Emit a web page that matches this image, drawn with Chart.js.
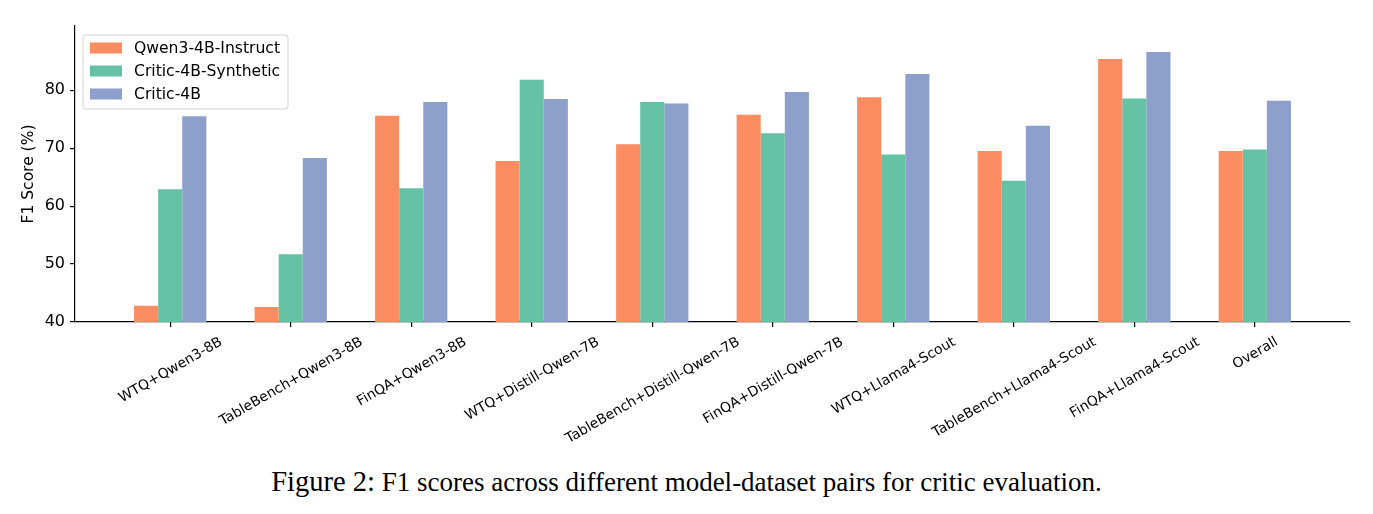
<!DOCTYPE html>
<html>
<head>
<meta charset="utf-8">
<script src="https://cdn.jsdelivr.net/npm/chart.js@4.4.1/dist/chart.umd.min.js"></script>
<style>
  html, body { margin: 0; padding: 0; background: #ffffff; }
  #wrap { position: relative; width: 1373px; height: 514px; overflow: hidden; background: #fff; }
  #c { position: absolute; left: 0; top: 0; }
  #caption { position: absolute; left: 0; top: 466px; width: 1373px; text-align: center;
             font-family: "Liberation Serif", "Times New Roman", serif; line-height: 32px; color: #000; white-space: nowrap; }
  #caption .fig { font-size: 28.5px; }
  #caption .txt { font-size: 27px; }
</style>
</head>
<body>
<div id="wrap">
  <canvas id="c" width="1373" height="460"></canvas>
  <div id="caption"><span class="fig">Figure 2:</span><span class="txt"> F1 scores across different model-dataset pairs for critic evaluation.</span></div>
</div>
<script>
const categories = [
  "WTQ+Qwen3-8B", "TableBench+Qwen3-8B", "FinQA+Qwen3-8B",
  "WTQ+Distill-Qwen-7B", "TableBench+Distill-Qwen-7B", "FinQA+Distill-Qwen-7B",
  "WTQ+Llama4-Scout", "TableBench+Llama4-Scout", "FinQA+Llama4-Scout", "Overall"
];
const seriesNames = ["Qwen3-4B-Instruct", "Critic-4B-Synthetic", "Critic-4B"];
const qwenInstruct = [42.8, 42.6, 75.6, 67.8, 70.7, 75.8, 78.8, 69.5, 85.4, 69.5];
const critic4BSynthetic = [62.9, 51.7, 63.1, 81.8, 78.0, 72.6, 68.9, 64.4, 78.6, 69.8];
const critic4B = [75.5, 68.3, 78.0, 78.5, 77.7, 79.7, 82.8, 73.9, 86.6, 78.2];
const yTicks = [40, 50, 60, 70, 80];
const yLabel = "F1 Score (%)";

const colors = ["#fc8d62", "#66c2a5", "#8da0cb"];
const seriesValues = [qwenInstruct, critic4BSynthetic, critic4B];

const datasets = seriesValues.map((vals, k) => ({
  label: seriesNames[k],
  data: vals.map((v, i) => ({ x: i, y: v })),
  backgroundColor: colors[k],
  borderWidth: 0,
  categoryPercentage: 0.6,
  barPercentage: 1.0
}));

const FONT = "DejaVu Sans";

const overlay = {
  id: "overlay",
  afterDraw(chart) {
    const ctx = chart.ctx;
    const xs = chart.scales.x;
    const area = chart.chartArea;
    // rotated x tick labels, centered on ticks (matplotlib ha=center)
    const fs = 13.9;
    const th = 30 * Math.PI / 180;
    ctx.save();
    ctx.fillStyle = "#000";
    ctx.font = fs + "px '" + FONT + "'";
    ctx.textAlign = "center";
    ctx.textBaseline = "alphabetic";
    const top = area.bottom + 11;
    categories.forEach((lab, i) => {
      const w = ctx.measureText(lab).width;
      const h = fs * 1.164;
      const H = w * Math.sin(th) + h * Math.cos(th);
      const cx = xs.getPixelForValue(i);
      const cy = top + H / 2;
      ctx.save();
      ctx.translate(cx, cy);
      ctx.rotate(-th);
      ctx.fillText(lab, 0, 0.346 * fs);
      ctx.restore();
    });
    ctx.restore();

    // y axis title
    ctx.save();
    ctx.fillStyle = "#000";
    ctx.font = "15.5px '" + FONT + "'";
    ctx.textAlign = "center";
    ctx.textBaseline = "middle";
    ctx.translate(29, (area.top + area.bottom) / 2);
    ctx.rotate(-Math.PI / 2);
    ctx.fillText(yLabel, 0, 0);
    ctx.restore();

    // legend
    const lx = area.left + 8, ly = area.top + 9, lw = 205, lh = 74, r = 3;
    ctx.save();
    ctx.beginPath();
    ctx.moveTo(lx + r, ly);
    ctx.lineTo(lx + lw - r, ly);
    ctx.arcTo(lx + lw, ly, lx + lw, ly + r, r);
    ctx.lineTo(lx + lw, ly + lh - r);
    ctx.arcTo(lx + lw, ly + lh, lx + lw - r, ly + lh, r);
    ctx.lineTo(lx + r, ly + lh);
    ctx.arcTo(lx, ly + lh, lx, ly + lh - r, r);
    ctx.lineTo(lx, ly + r);
    ctx.arcTo(lx, ly, lx + r, ly, r);
    ctx.closePath();
    ctx.fillStyle = "rgba(255,255,255,0.8)";
    ctx.fill();
    ctx.strokeStyle = "#d5d5d5";
    ctx.lineWidth = 1;
    ctx.stroke();
    ctx.font = "15.6px '" + FONT + "'";
    ctx.textAlign = "left";
    ctx.textBaseline = "middle";
    chart.data.datasets.forEach((ds, k) => {
      const rowY = ly + 13 + k * 23;
      ctx.fillStyle = ds.backgroundColor;
      ctx.fillRect(lx + 7, rowY - 5.5, 32, 11);
      ctx.fillStyle = "#000";
      ctx.fillText(ds.label, lx + 51, rowY + 1);
    });
    ctx.restore();
  }
};

new Chart(document.getElementById("c"), {
  type: "bar",
  data: { datasets },
  plugins: [overlay],
  options: {
    responsive: false,
    animation: false,
    devicePixelRatio: 1,
    layout: { padding: { left: 0, top: 26, right: 23, bottom: 0 } },
    plugins: { legend: { display: false }, tooltip: { enabled: false } },
    scales: {
      x: {
        type: "linear",
        min: -0.79,
        max: 9.79,
        offset: false,
        afterBuildTicks: (axis) => { axis.ticks = categories.map((_, i) => ({ value: i })); },
        afterFit: (scale) => { scale.height = 138; },
        ticks: { display: false },
        grid: { display: true, drawOnChartArea: false, drawTicks: true, tickLength: 5, color: "#000", lineWidth: 1.2, offset: false },
        border: { display: true, color: "#000", width: 1.2 }
      },
      y: {
        min: 40,
        max: 91.1,
        afterBuildTicks: (axis) => { axis.ticks = yTicks.map(v => ({ value: v })); },
        afterFit: (scale) => { scale.width = 75; },
        ticks: { color: "#000", padding: 5, font: { family: FONT, size: 16 } },
        grid: { display: true, drawOnChartArea: false, drawTicks: true, tickLength: 5, color: "#000", lineWidth: 1.2 },
        border: { display: true, color: "#000", width: 1.2 }
      }
    }
  }
});
</script>
</body>
</html>
